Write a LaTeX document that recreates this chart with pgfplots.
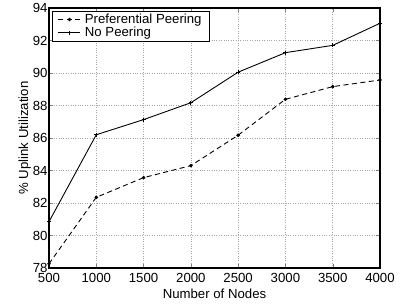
\documentclass[border=0pt]{standalone}
\usepackage{fontspec}
\setmainfont{Liberation Sans}
\usepackage{pgfplots}
\pgfplotsset{compat=1.18}
\begin{document}
\begin{tikzpicture}
\begin{axis}[
  scale only axis,
  width=331bp, height=260bp,
  xmin=500, xmax=4000, ymin=78, ymax=94,
  xtick={500,1000,...,4000},
  ytick={78,80,...,94},
  tick align=inside,
  ticks=both,
  xtick pos=both, ytick pos=both,
  major tick length=4bp,
  axis line style={line width=1.2pt},
  grid=major,
  major grid style={dotted, gray!70, line width=0.5pt},
  font=\fontsize{13.2bp}{14bp}\selectfont,
  /pgf/number format/assume math mode=true,
  /pgf/number format/1000 sep={},
  xlabel={Number of Nodes},
  ylabel={\% Uplink Utilization},
  xlabel style={yshift=1bp},
  ylabel style={yshift=-5bp},
  xticklabel style={yshift=-2bp},
  yticklabel style={xshift=2bp},
  legend style={at={(0.008,0.99)}, anchor=north west, draw=black, line width=0.8pt,
    font=\fontsize{13.2bp}{13bp}\selectfont, inner xsep=6bp, inner ysep=1pt, row sep=-2pt},
  legend image code/.code={\path (0bp,0bp) (24bp,0bp);\draw[mark repeat=2,mark phase=2] plot coordinates {(0bp,0bp) (11bp,0bp) (22bp,0bp)};},
  legend cell align=left,
]
\addplot[black, dash pattern=on 5bp off 3.5bp, line width=0.9pt, mark=*, mark size=1.3pt, mark options={solid}] coordinates {
(500,78.26) (1000,82.35) (1500,83.56) (2000,84.3) (2500,86.17) (3000,88.38) (3500,89.16) (4000,89.57)};
\addlegendentry{Preferential Peering}
\addplot[black, solid, line width=0.9pt, mark=+, mark size=2pt] coordinates {
(500,80.85) (1000,86.2) (1500,87.13) (2000,88.17) (2500,90.05) (3000,91.25) (3500,91.7) (4000,93.06)};
\addlegendentry{No Peering}
\end{axis}
\path (current axis.south west) +(-49bp,-39bp);
\path (current axis.north east) +(23bp,7bp);
\end{tikzpicture}
\end{document}
